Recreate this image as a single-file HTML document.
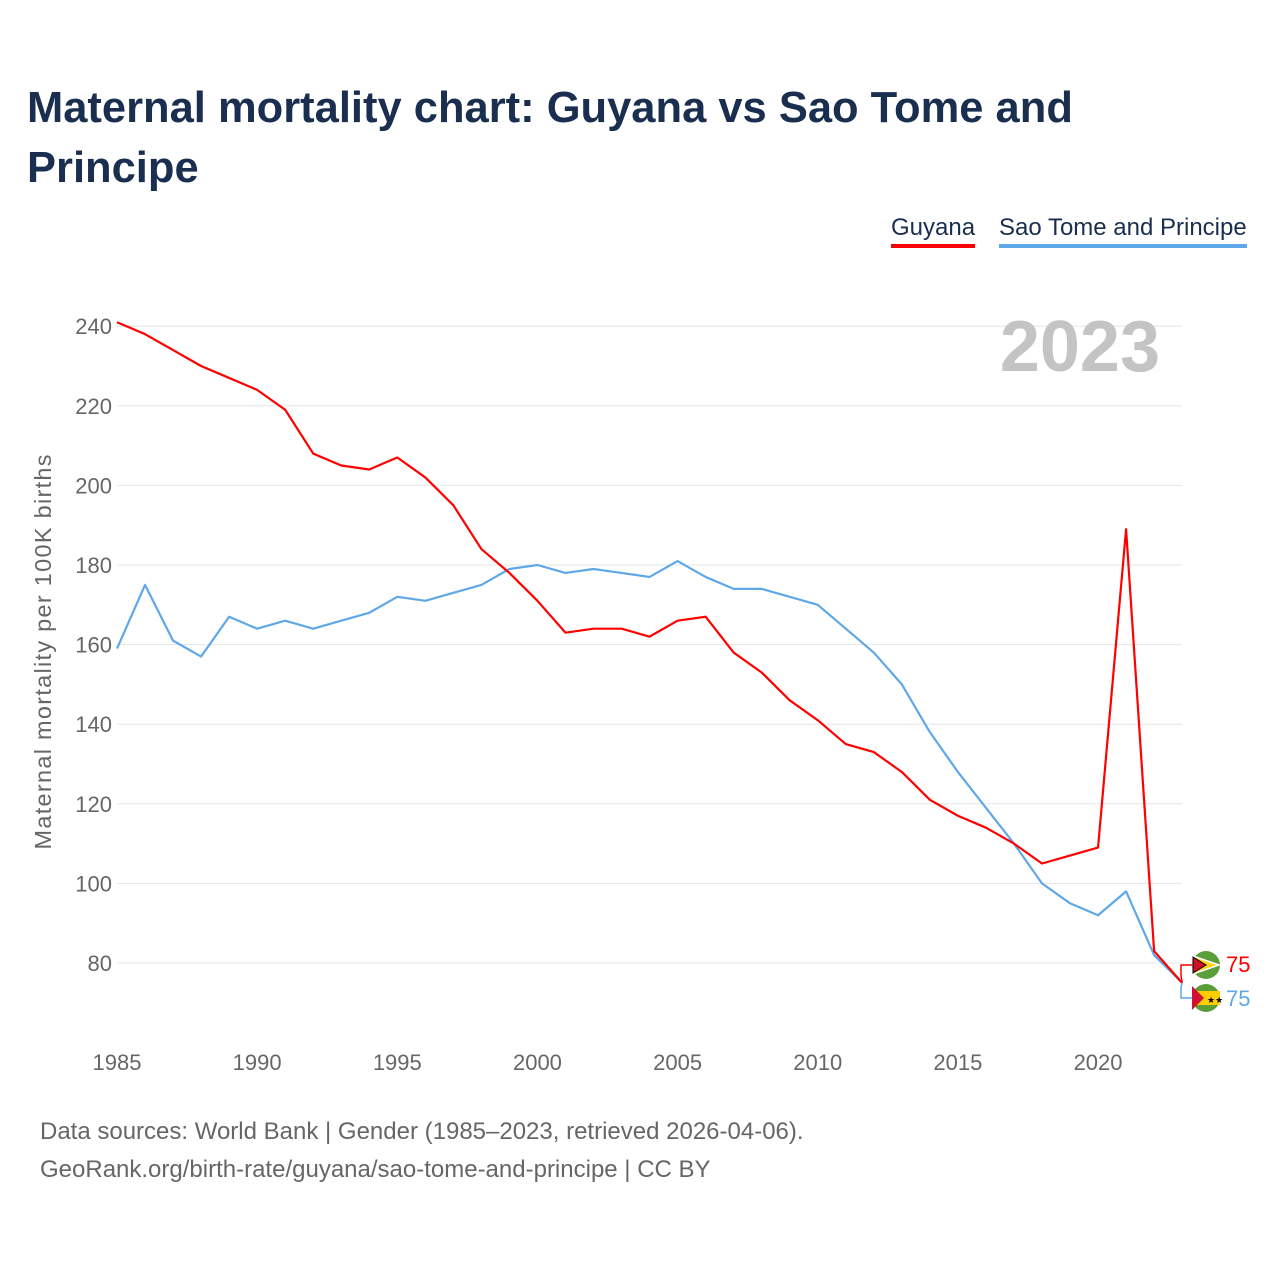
<!DOCTYPE html>
<html><head><meta charset="utf-8"><style>
body{margin:0;background:#fff;font-family:"Liberation Sans",sans-serif;}
#wrap{position:relative;width:1280px;height:1280px;}
h1{position:absolute;left:27px;top:78px;margin:0;font-size:43.5px;line-height:60px;color:#1a2e4f;font-weight:bold;width:1150px;}
.leg{position:absolute;top:214px;font-size:24px;color:#1a2e4f;padding-bottom:2px;}
.src{position:absolute;left:40px;font-size:24px;color:#666;}
</style></head><body><div id="wrap">
<h1>Maternal mortality chart: Guyana vs Sao Tome and Principe</h1>
<div class="leg" style="left:891px;border-bottom:4px solid #f00">Guyana</div>
<div class="leg" style="left:999px;border-bottom:4px solid #5fa8e8">Sao Tome and Principe</div>
<svg id="svg" width="1280" height="1280" style="position:absolute;left:0;top:0"></svg>
<div class="src" style="top:1118px">Data sources: World Bank | Gender (1985–2023, retrieved 2026-04-06).</div>
<div class="src" style="top:1156px">GeoRank.org/birth-rate/guyana/sao-tome-and-principe | CC BY</div>
</div>
<script>
const years=[1985,1986,1987,1988,1989,1990,1991,1992,1993,1994,1995,1996,1997,1998,1999,2000,2001,2002,2003,2004,2005,2006,2007,2008,2009,2010,2011,2012,2013,2014,2015,2016,2017,2018,2019,2020,2021,2022,2023];
const guyana=[241,238,234,230,227,224,219,208,205,204,207,202,195,184,178,171,163,164,164,162,166,167,158,153,146,141,135,133,128,121,117,114,110,105,107,109,189,83,75];
const saoTome=[159,175,161,157,167,164,166,164,166,168,172,171,173,175,179,180,178,179,178,177,181,177,174,174,172,170,164,158,150,138,128,119,110,100,95,92,98,82,75];
const yTicks=[80,100,120,140,160,180,200,220,240];
const xTicks=[1985,1990,1995,2000,2005,2010,2015,2020];
const ns="http://www.w3.org/2000/svg";
const svg=document.getElementById('svg');
const X=y=>117+(y-1985)*28.03;
const Y=v=>963-(v-80)*3.98;
function mk(t,a,txt){const e=document.createElementNS(ns,t);for(const k in a)e.setAttribute(k,a[k]);if(txt!=null)e.textContent=txt;svg.appendChild(e);return e;}
yTicks.forEach(v=>{
 const l=mk('line',{x1:117,x2:1182,y1:Y(v),y2:Y(v),stroke:'#e6e6e6','stroke-width':1});
 
 
 const t=mk('text',{x:112,y:Y(v)+8,'text-anchor':'end','font-size':22,fill:'#666','font-family':'Liberation Sans'},v);
 
 
});
xTicks.forEach(v=>{
 const t=mk('text',{x:X(v),y:1070,'text-anchor':'middle','font-size':22,fill:'#666','font-family':'Liberation Sans'},v);
 
 
});
const yt=mk('text',{x:0,y:0,transform:'translate(51,652) rotate(-90)','text-anchor':'middle','font-size':23.5,fill:'#666','font-family':'Liberation Sans','textLength':395},'Maternal mortality per 100K births');


const yr=mk('text',{x:1160,y:371,'text-anchor':'end','font-size':72,'font-weight':'bold',fill:'#c4c4c4','font-family':'Liberation Sans'},'2023');


function line(d,c,n){
 const p=mk('polyline',{points:d.map((v,i)=>X(years[i])+','+Y(v)).join(' '),fill:'none',stroke:c,'stroke-width':2.2,'stroke-linejoin':'round'});
 
 
}
line(saoTome,'#5fa8e8','line-sao-tome');
line(guyana,'#f00','line-guyana');
const ex=X(2023),ey=Y(guyana[guyana.length-1]);
mk('polyline',{points:`${ex},${ey} 1181,${ey-8} 1181,965 1192,965`,fill:'none',stroke:'#f00','stroke-width':1.5});
mk('polyline',{points:`${ex},${ey} 1181,${ey+4} 1181,998 1192,998`,fill:'none',stroke:'#5fa8e8','stroke-width':1.5});
const g1=mk('circle',{cx:1206,cy:965,r:14,fill:'#5a9e3a'});


mk('path',{d:'M1193,956 L1219,965 L1193,974 Z',fill:'#fcd116',stroke:'#fff','stroke-width':1.5});
mk('path',{d:'M1193,957 L1206,965 L1193,973 Z',fill:'#ce1126',stroke:'#000','stroke-width':1});
const g2=mk('circle',{cx:1206,cy:998,r:14,fill:'#5a9e3a'});


mk('rect',{x:1192,y:991,width:28,height:14,fill:'#ffce00'});
mk('path',{d:'M1192,986 L1204,998 L1192,1010 Z',fill:'#d21034'});
mk('text',{x:1207,y:1003,'font-size':9,fill:'#000'},'★★');
const l1=mk('text',{x:1226,y:972,'font-size':22,fill:'#f00','font-family':'Liberation Sans'},guyana[guyana.length-1]);


const l2=mk('text',{x:1226,y:1006,'font-size':22,fill:'#5fa8e8','font-family':'Liberation Sans'},saoTome[saoTome.length-1]);


</script></body></html>
